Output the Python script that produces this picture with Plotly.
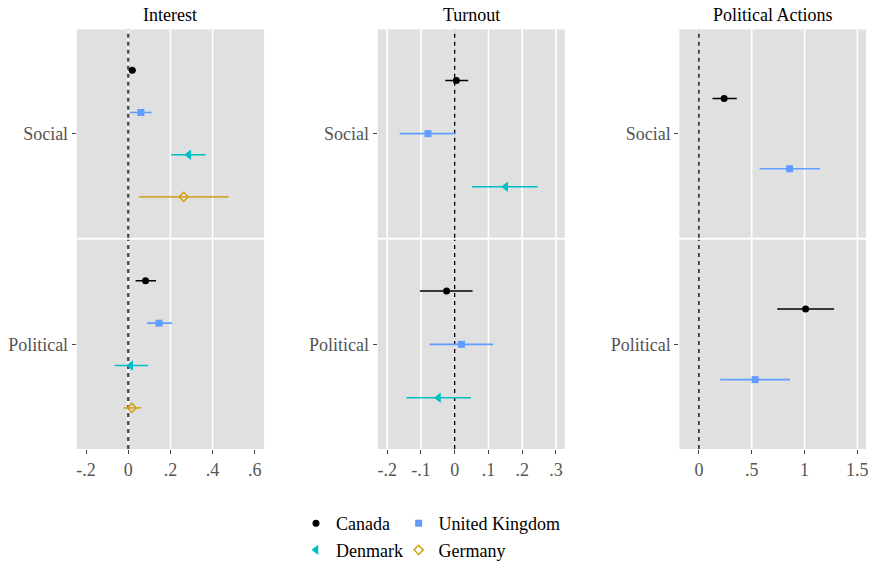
import plotly.graph_objects as go

# Facets and groups
outcomes = ["Interest", "Turnout", "Political Actions"]
networks = ["Social", "Political"]
countries = ["Canada", "United Kingdom", "Denmark", "Germany"]

# Estimates with confidence bounds; rows follow the panel's country list, columns follow `networks`
interest_countries = ["Canada", "United Kingdom", "Denmark", "Germany"]
interest_est = [[0.019, 0.082], [0.060, 0.146], [0.287, 0.012], [0.263, 0.017]]
interest_lo = [[0.002, 0.035], [0.009, 0.090], [0.203, -0.065], [0.052, -0.022]]
interest_hi = [[0.037, 0.132], [0.112, 0.208], [0.367, 0.095], [0.476, 0.061]]

turnout_countries = ["Canada", "United Kingdom", "Denmark"]
turnout_est = [[0.005, -0.024], [-0.079, 0.020], [0.151, -0.048]]
turnout_lo = [[-0.028, -0.103], [-0.163, -0.074], [0.051, -0.143]]
turnout_hi = [[0.040, 0.053], [0.002, 0.114], [0.246, 0.048]]

actions_countries = ["Canada", "United Kingdom"]
actions_est = [[0.239, 1.010], [0.859, 0.532]]
actions_lo = [[0.129, 0.742], [0.575, 0.202]]
actions_hi = [[0.359, 1.280], [1.148, 0.862]]

# Axis ticks and gridlines per outcome
interest_ticks = [-0.2, 0, 0.2, 0.4, 0.6]
interest_ticktext = ["-.2", "0", ".2", ".4", ".6"]
interest_grid = [0, 0.2, 0.4]
turnout_ticks = [-0.2, -0.1, 0, 0.1, 0.2, 0.3]
turnout_ticktext = ["-.2", "-.1", "0", ".1", ".2", ".3"]
turnout_grid = [-0.2, -0.1, 0.1, 0.2, 0.3]
actions_ticks = [0, 0.5, 1, 1.5]
actions_ticktext = ["0", ".5", "1", "1.5"]
actions_grid = [0.5, 1, 1.5]

W, H = 872.0, 569.0


def py(px):
    return 1 - px / H


panels = [
    dict(countries=interest_countries, est=interest_est, lo=interest_lo, hi=interest_hi,
         ticks=interest_ticks, ticktext=interest_ticktext, grid=interest_grid,
         xrange=[-0.244, 0.644], step=0.243, domain=[77 / W, 265 / W],
         zero=dict(color="#444444", width=2.2)),
    dict(countries=turnout_countries, est=turnout_est, lo=turnout_lo, hi=turnout_hi,
         ticks=turnout_ticks, ticktext=turnout_ticktext, grid=turnout_grid,
         xrange=[-0.228, 0.326], step=0.306, domain=[379 / W, 566.7 / W],
         zero=dict(color="#000000", width=1.3)),
    dict(countries=actions_countries, est=actions_est, lo=actions_lo, hi=actions_hi,
         ticks=actions_ticks, ticktext=actions_ticktext, grid=actions_grid,
         xrange=[-0.185, 1.582], step=0.405, domain=[681.7 / W, 869 / W],
         zero=dict(color="#000000", width=1.3)),
]

row_domains = [[py(242), py(30)], [py(457), py(244)]]

styles = {
    "Canada": dict(color="#000000", symbol="circle", size=7, line=dict(width=0)),
    "United Kingdom": dict(color="#619CFF", symbol="square", size=7, line=dict(width=0)),
    "Denmark": dict(color="#00BFC4", symbol="triangle-left", size=9, line=dict(width=0)),
    "Germany": dict(color="#D4A017", symbol="diamond-open", size=7,
                    line=dict(width=1.5, color="#D4A017")),
}
bar_colors = {
    "Canada": "#000000",
    "United Kingdom": "#619CFF",
    "Denmark": "#00BFC4",
    "Germany": "#D2A932",
}
# one single-entry legend per country, laid out as a 2x2 key
legend_of = {"Canada": "legend", "United Kingdom": "legend2",
             "Denmark": "legend3", "Germany": "legend4"}
legend_pos = {"legend": (297, 533), "legend2": (400, 533),
              "legend3": (297, 560), "legend4": (400, 560)}

FONT = "Liberation Serif"
FS = 18
fig = go.Figure()
shapes = []
annotations = []
shown = set()

for c, p in enumerate(panels):
    n = len(p["countries"])
    for r, net in enumerate(networks):
        idx = c * 2 + r + 1
        xa = "x" if idx == 1 else f"x{idx}"
        ya = "y" if idx == 1 else f"y{idx}"
        for k, country in enumerate(p["countries"]):
            est = p["est"][k][r]
            lo = p["lo"][k][r]
            hi = p["hi"][k][r]
            # dodge the countries around the network category
            ypos = (k - (n - 1) / 2) * p["step"]
            first = country not in shown
            shown.add(country)
            fig.add_trace(go.Scatter(
                x=[est], y=[ypos], xaxis=xa, yaxis=ya, mode="markers",
                name=country, legend=legend_of[country], showlegend=first,
                marker=styles[country],
                error_x=dict(type="data", symmetric=False, array=[hi - est],
                             arrayminus=[est - lo], width=0, thickness=1.6,
                             color=bar_colors[country]),
                cliponaxis=False,
            ))
        bottom = r == 1
        fig.update_layout(**{
            ("xaxis" if idx == 1 else f"xaxis{idx}"): dict(
                domain=p["domain"], range=p["xrange"], anchor=ya,
                showgrid=False, zeroline=False, showline=False,
                tickvals=p["ticks"], ticktext=p["ticktext"],
                showticklabels=bottom, ticks="outside" if bottom else "",
                ticklen=4, tickwidth=1, tickcolor="#444444",
                tickfont=dict(family=FONT, size=FS, color="#555555"),
            ),
            ("yaxis" if idx == 1 else f"yaxis{idx}"): dict(
                domain=row_domains[r], range=[0.6, -0.6], anchor=xa,
                showgrid=False, zeroline=False, showline=False,
                tickvals=[0], ticktext=[net], ticks="outside",
                ticklen=4, tickwidth=1, tickcolor="#444444",
                tickfont=dict(family=FONT, size=FS, color="#555555"),
            ),
        })
        for g in p["grid"]:
            shapes.append(dict(type="line", xref=xa, yref=f"{ya} domain",
                               x0=g, x1=g, y0=0, y1=1, layer="below",
                               line=dict(color="#FFFFFF", width=1.6)))
        shapes.append(dict(type="line", xref=xa, yref=f"{ya} domain",
                           x0=0, x1=0, y0=0, y1=1, layer="below",
                           line=dict(color=p["zero"]["color"], width=p["zero"]["width"],
                                     dash="4px,4px")))
        shapes.insert(0, dict(type="rect", xref=f"{xa} domain", yref=f"{ya} domain",
                              x0=0, x1=1, y0=0, y1=1, layer="below",
                              fillcolor="#E0E0E0", line=dict(width=0)))
    annotations.append(dict(text=outcomes[c], xref="paper", yref="paper",
                            x=sum(p["domain"]) / 2, y=py(15),
                            xanchor="center", yanchor="middle", showarrow=False,
                            font=dict(family=FONT, size=FS, color="#000000")))

legends = {}
for key, (lx, ly) in legend_pos.items():
    legends[key] = dict(orientation="h", xanchor="left", yanchor="middle",
                        x=lx / W, y=py(ly), bgcolor="rgba(0,0,0,0)",
                        itemwidth=30,
                        font=dict(family=FONT, size=FS, color="#000000"))

fig.update_layout(
    width=872, height=569,
    margin=dict(l=0, r=0, t=0, b=0),
    paper_bgcolor="#FFFFFF", plot_bgcolor="rgba(0,0,0,0)",
    font=dict(family=FONT, size=FS, color="#000000"),
    shapes=shapes, annotations=annotations,
    **legends,
)

fig.write_html("out.html")
